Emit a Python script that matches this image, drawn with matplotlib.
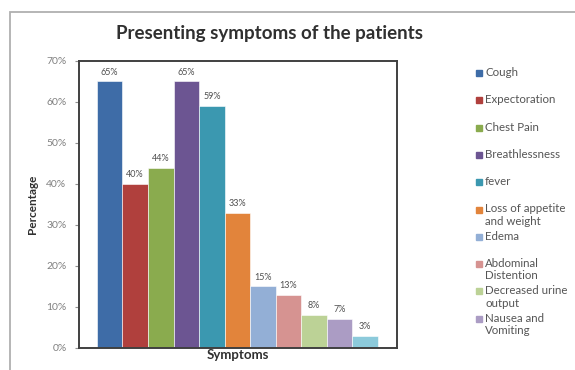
import matplotlib
matplotlib.use("Agg")
from matplotlib import pyplot as plt
from matplotlib.patches import Rectangle
from matplotlib.ticker import PercentFormatter

sintomas = ["Cough", "Expectoration", "Chest Pain", "Breathlessness", "fever",
            "Loss of appetite\nand weight", "Edema", "Abdominal\nDistention",
            "Decreased urine\noutput", "Nausea and\nVomiting", ""]
porcentajes = [65, 40, 44, 65, 59, 33, 15, 13, 8, 7, 3]
colores = ["#3e6ca7", "#b0403d", "#8aab4e", "#6c5592", "#3b98b0", "#e2843b",
           "#93afd6", "#d69391", "#bcd296", "#ab9cc4", "#8ccadb"]
ticks_y = [0, 10, 20, 30, 40, 50, 60, 70]

plt.rcParams['font.family'] = ['Lato', 'DejaVu Sans']

fig = plt.figure(figsize=(5.75, 3.7), dpi=100)
ax = fig.add_axes([0.1374, 0.0595, 0.553, 0.7757])

# marco exterior gris
fig.patches.append(Rectangle((10 / 575, -0.1), 1.2, 1 - 12 / 370 + 0.1,
                             transform=fig.transFigure, fill=False,
                             edgecolor="#b0b0b0", linewidth=1.3))

x = list(range(len(porcentajes)))
ax.bar(x, porcentajes, width=1.0, color=colores, edgecolor="white", linewidth=0.4)
for i in range(len(porcentajes)):
    ax.text(x[i], porcentajes[i] + 1.2, f"{porcentajes[i]}%", ha="center", va="bottom",
            fontsize=6.5, color="#505050")

ax.set_xlim(-1.2, 11.25)
ax.set_ylim(0, 70)
ax.set_yticks(ticks_y)
ax.yaxis.set_major_formatter(PercentFormatter(decimals=0))
ax.tick_params(axis="y", labelsize=7.5, labelcolor="#808080", length=3, color="#909090", pad=6)
ax.set_xticks([])
for s in ax.spines.values():
    s.set_color("#404040")
    s.set_linewidth(1.4)

ax.set_ylabel("Percentage", fontsize=8.5, fontweight="bold", color="#303030", labelpad=6)
ax.set_xlabel("Symptoms", fontsize=9.5, fontweight="bold", color="#303030", labelpad=1)
fig.text(270 / 575, 0.91, "Presenting symptoms of the patients", ha="center", va="center",
         fontsize=13.5, fontweight="bold", color="#303030")

# leyenda dibujada a mano
for i in range(10):
    y = 1 - (73 + i * 27.3) / 370
    fig.patches.append(Rectangle((476 / 575, y - 3 / 370), 6 / 575, 6 / 370,
                                 transform=fig.transFigure, color=colores[i]))
    fig.text(485 / 575, y + 6 / 370, sintomas[i], ha="left", va="top", fontsize=8.3,
             color="#555555", linespacing=1.15)

fig.savefig("out.png", dpi=100)
